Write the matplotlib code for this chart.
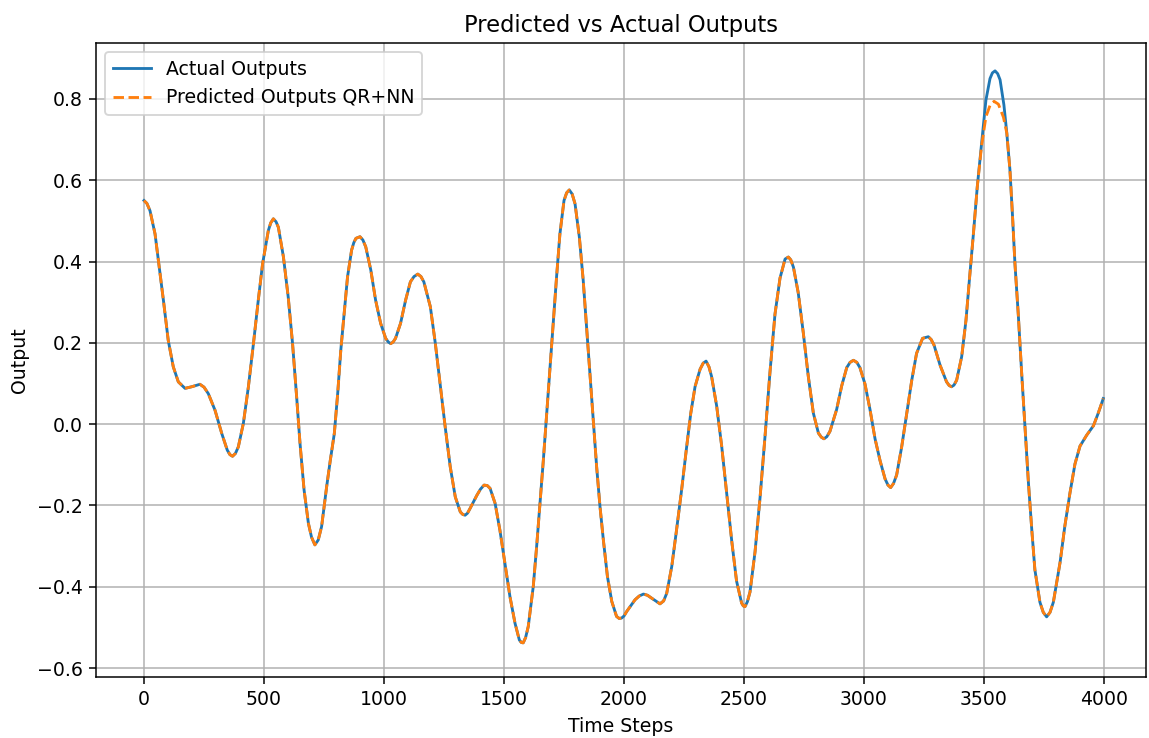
import matplotlib
matplotlib.use("Agg")
import matplotlib.pyplot as plt

# values, (time step, output)
steps = [0, 25, 46, 60, 81, 101, 122, 143, 171, 199, 233, 268, 296, 324, 347, 369, 393, 414, 435, 456,
         476, 494, 518, 539, 560, 581, 601, 619, 636, 650, 667, 685, 712, 740, 761, 776, 793, 807, 820, 834,
         848, 865, 883, 900, 924, 945, 965, 986, 1007, 1028, 1048, 1069, 1090, 1110, 1141, 1166, 1193, 1214, 1235, 1255,
         1276, 1297, 1318, 1338, 1359, 1387, 1417, 1442, 1463, 1483, 1504, 1525, 1546, 1564, 1580, 1601, 1622, 1636, 1650, 1664,
         1678, 1692, 1706, 1719, 1733, 1750, 1772, 1796, 1814, 1830, 1844, 1858, 1872, 1886, 1900, 1914, 1931, 1949, 1969, 1990,
         2011, 2046, 2081, 2115, 2150, 2178, 2199, 2219, 2240, 2261, 2278, 2296, 2317, 2342, 2365, 2386, 2407, 2428, 2449, 2469,
         2490, 2504, 2525, 2546, 2567, 2588, 2608, 2629, 2650, 2671, 2685, 2706, 2726, 2747, 2768, 2789, 2810, 2833, 2858, 2886,
         2907, 2928, 2956, 2983, 3004, 3025, 3046, 3067, 3088, 3111, 3136, 3157, 3178, 3199, 3219, 3244, 3268, 3292, 3317, 3344,
         3365, 3386, 3407, 3425, 3439, 3456, 3472, 3490, 3508, 3525, 3546, 3567, 3583, 3595, 3608, 3619, 3629, 3643, 3657, 3671,
         3685, 3699, 3712, 3733, 3761, 3789, 3817, 3837, 3858, 3879, 3900, 3928, 3956, 3976, 3997]
actual = [0.550, 0.525, 0.468, 0.402, 0.304, 0.206, 0.141, 0.104, 0.088, 0.092, 0.098, 0.075, 0.034, -0.023, -0.064, -0.079, -0.056, 0.002, 0.092, 0.198,
          0.304, 0.394, 0.476, 0.505, 0.484, 0.411, 0.312, 0.198, 0.067, -0.047, -0.162, -0.244, -0.297, -0.252, -0.154, -0.090, -0.023, 0.075, 0.182, 0.272,
          0.362, 0.428, 0.457, 0.461, 0.436, 0.379, 0.305, 0.248, 0.211, 0.198, 0.211, 0.248, 0.305, 0.350, 0.369, 0.350, 0.289, 0.198, 0.092, -0.007,
          -0.105, -0.179, -0.216, -0.224, -0.207, -0.175, -0.150, -0.158, -0.195, -0.261, -0.343, -0.425, -0.490, -0.531, -0.538, -0.498, -0.399, -0.301, -0.195, -0.088,
          0.026, 0.141, 0.255, 0.362, 0.468, 0.550, 0.576, 0.542, 0.460, 0.354, 0.239, 0.124, 0.010, -0.105, -0.203, -0.285, -0.375, -0.436, -0.473, -0.477,
          -0.461, -0.432, -0.418, -0.428, -0.442, -0.416, -0.350, -0.260, -0.162, -0.056, 0.026, 0.092, 0.135, 0.155, 0.117, 0.045, -0.054, -0.171, -0.288, -0.386,
          -0.440, -0.449, -0.413, -0.314, -0.180, -0.027, 0.126, 0.270, 0.359, 0.406, 0.411, 0.386, 0.323, 0.225, 0.117, 0.027, -0.022, -0.036, -0.018, 0.036,
          0.094, 0.139, 0.157, 0.139, 0.099, 0.036, -0.036, -0.090, -0.135, -0.156, -0.125, -0.056, 0.026, 0.108, 0.174, 0.211, 0.215, 0.194, 0.145, 0.104,
          0.092, 0.108, 0.166, 0.256, 0.354, 0.469, 0.584, 0.690, 0.797, 0.850, 0.869, 0.847, 0.785, 0.716, 0.626, 0.510, 0.394, 0.268, 0.125, -0.009,
          -0.143, -0.259, -0.358, -0.438, -0.474, -0.438, -0.340, -0.250, -0.170, -0.098, -0.054, -0.027, -0.004, 0.027, 0.063]

# extra readings around the turning points
extra_steps = [12, 250, 358, 381, 528, 550, 698, 726, 874, 912, 1018, 1038, 1125, 1154, 1328, 1348, 1402, 1430,
               1572, 1590, 1761, 1784, 1980, 2000, 2063, 2098, 2165, 2330, 2354, 2497, 2514, 2695, 2822, 2845,
               2942, 2970, 3100, 3123, 3280, 3355, 3375, 3535, 3557, 3747, 3775]
extra_actual = [0.543, 0.091, -0.075, -0.072, 0.495, 0.498, -0.278, -0.285, 0.446, 0.453, 0.202, 0.202, 0.363, 0.363,
                -0.222, -0.219, -0.160, -0.151, -0.537, -0.525, 0.569, 0.566, -0.478, -0.472, -0.423, -0.421, -0.435,
                0.150, 0.141, -0.447, -0.437, 0.404, -0.032, -0.031, 0.152, 0.152, -0.150, -0.146, 0.208, 0.095, 0.096,
                0.864, 0.862, -0.463, -0.463]

# the prediction follows the actual curve except around the big peak
peak_steps = [3490, 3508, 3525, 3542, 3560, 3581, 3595]
peak_pred = [0.685, 0.756, 0.784, 0.794, 0.787, 0.755, 0.716]

act_pairs = sorted(list(zip(steps, actual)) + list(zip(extra_steps, extra_actual)))
act_steps = [p[0] for p in act_pairs]
act_vals = [p[1] for p in act_pairs]

pred_pairs = [(t, v) for t, v in act_pairs if t < peak_steps[0] or t > peak_steps[-1]]
pred_pairs += list(zip(peak_steps, peak_pred))
pred_pairs.sort()
pred_steps = [p[0] for p in pred_pairs]
predicted = [p[1] for p in pred_pairs]

DPI = 136
fig = plt.figure(figsize=(1149 / DPI, 738 / DPI), dpi=DPI)
ax = fig.add_axes([96 / 1149, 61 / 738, 1050 / 1149, 634 / 738])

ax.plot(act_steps, act_vals, label='Actual Outputs')
ax.plot(pred_steps, predicted, '--', label='Predicted Outputs QR+NN')

ax.set_xlim(-200, 4175)
ax.set_ylim(-0.622, 0.9375)
ax.set_title('Predicted vs Actual Outputs')
ax.set_xlabel('Time Steps')
ax.set_ylabel('Output')
ax.legend(loc='upper left')
ax.grid(True)

fig.savefig('out.png', dpi=DPI)
